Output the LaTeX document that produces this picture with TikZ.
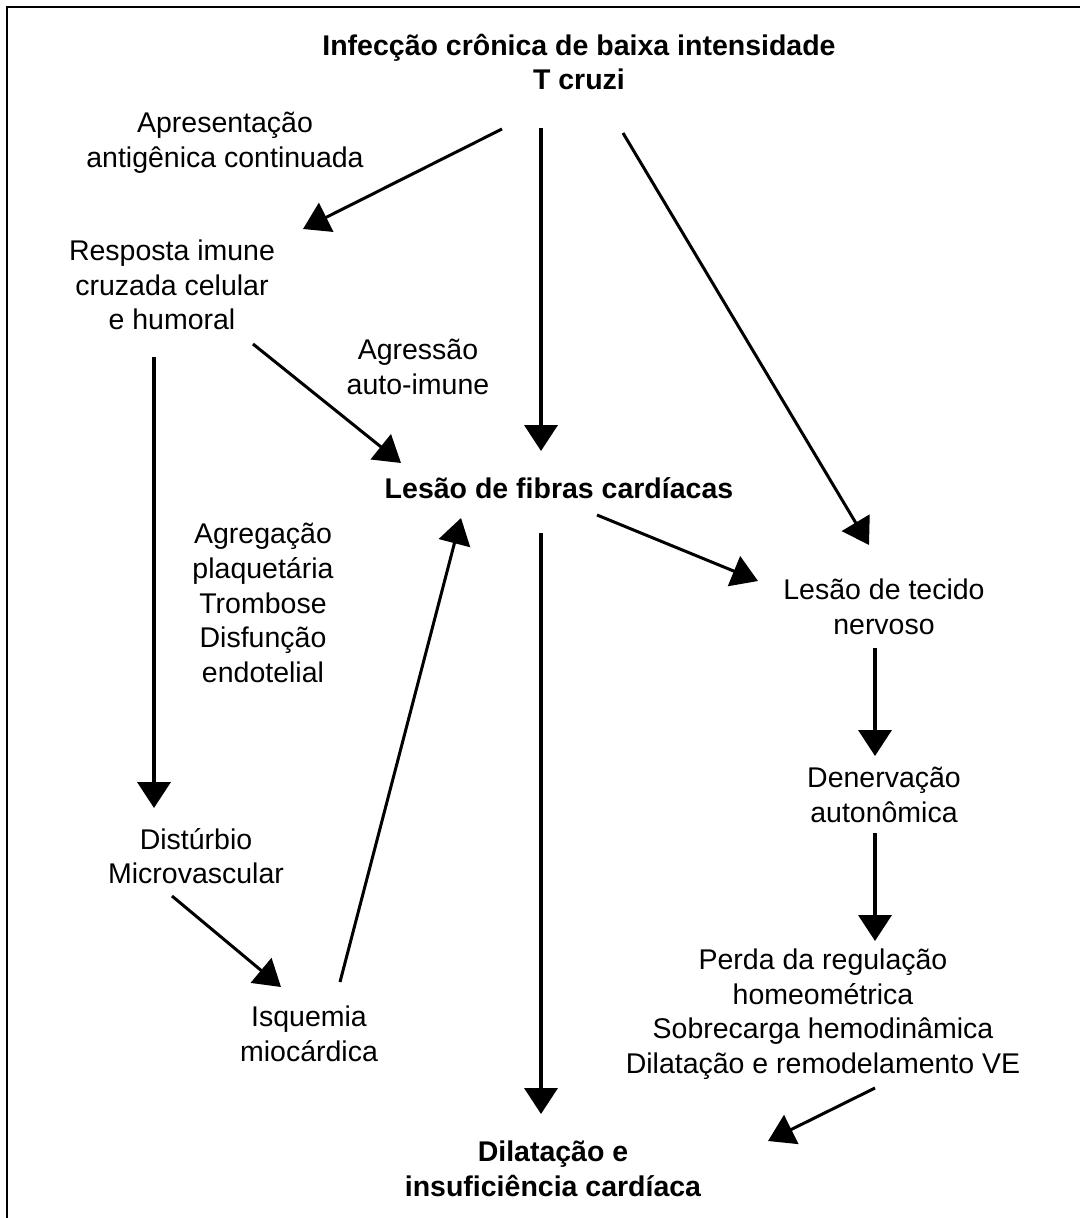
\documentclass[tikz,border=0pt]{standalone}
\usepackage{fontspec}
\setmainfont{Liberation Sans}
\usetikzlibrary{arrows.meta}
\tikzset{
  lbl/.style={align=center, inner sep=0pt, font=\fontsize{28.5}{34.6}\selectfont},
  blbl/.style={lbl, font=\fontsize{28.5}{34.6}\selectfont\bfseries},
  arr/.style={line width=3pt, -{Triangle[length=26pt,width=32pt]}},
  varr/.style={line width=3.8pt, -{Triangle[length=26pt,width=33pt]}},
}
\begin{document}
\begin{tikzpicture}[x=1pt,y=-1pt]
\useasboundingbox (0,0) rectangle (1079,1218);
\draw[line width=2.6pt] (7,1230) -- (7,7) -- (1090,7);

\node[blbl] (title) at (579,62) {Infecção crônica de baixa intensidade\\T cruzi};
\node[lbl] (apres) at (225,143) {Apresentação\\antigênica continuada};
\node[lbl] (resp) at (172,285) {Resposta imune\\cruzada celular\\e humoral};
\node[lbl] (agr) at (418,367) {Agressão\\auto-imune};
\node[blbl] (lesao) at (559,488) {Lesão de fibras cardíacas};
\node[lbl] (agreg) at (263,603) {Agregação\\plaquetária\\Trombose\\Disfunção\\endotelial};
\node[lbl] (tecido) at (884,607) {Lesão de tecido\\nervoso};
\node[lbl] (denerv) at (884,795) {Denervação\\autonômica};
\node[lbl] (dist) at (196,856) {Distúrbio\\Microvascular};
\node[lbl] (perda) at (823,1014) {Perda da regulação\\homeométrica\\Sobrecarga hemodinâmica\\Dilatação e remodelamento VE};
\node[lbl] (isq) at (309,1034) {Isquemia\\miocárdica};
\node[blbl] (dil) at (553,1169) {Dilatação e\\insuficiência cardíaca};

% connector end points
\coordinate (t1) at (502,129);   \coordinate (r1) at (303,229);
\coordinate (t2) at (541,128);   \coordinate (l1) at (541,451);
\coordinate (t3) at (623,133);   \coordinate (n1) at (869,545);
\coordinate (r2) at (253,344);   \coordinate (l2) at (401,463);
\coordinate (r3) at (154,357);   \coordinate (d1) at (154,808);
\coordinate (i1) at (340,982);   \coordinate (l3) at (461,518);
\coordinate (d2) at (172,896);   \coordinate (i2) at (281,987);
\coordinate (l4) at (541,533);   \coordinate (f1) at (541,1114);
\coordinate (l5) at (597,515);   \coordinate (n2) at (758,581);
\coordinate (n3) at (875,648);   \coordinate (e1) at (875,756);
\coordinate (e2) at (875,833);   \coordinate (p1) at (875,941);
\coordinate (p2) at (875,1088);  \coordinate (f2) at (768,1141);

\draw[arr]  (t1) -- (r1);
\draw[varr] (t2) -- (l1);
\draw[arr]  (t3) -- (n1);
\draw[arr]  (r2) -- (l2);
\draw[varr] (r3) -- (d1);
\draw[arr]  (i1) -- (l3);
\draw[arr]  (d2) -- (i2);
\draw[varr] (l4) -- (f1);
\draw[arr]  (l5) -- (n2);
\draw[varr] (n3) -- (e1);
\draw[varr] (e2) -- (p1);
\draw[arr]  (p2) -- (f2);
\end{tikzpicture}
\end{document}
